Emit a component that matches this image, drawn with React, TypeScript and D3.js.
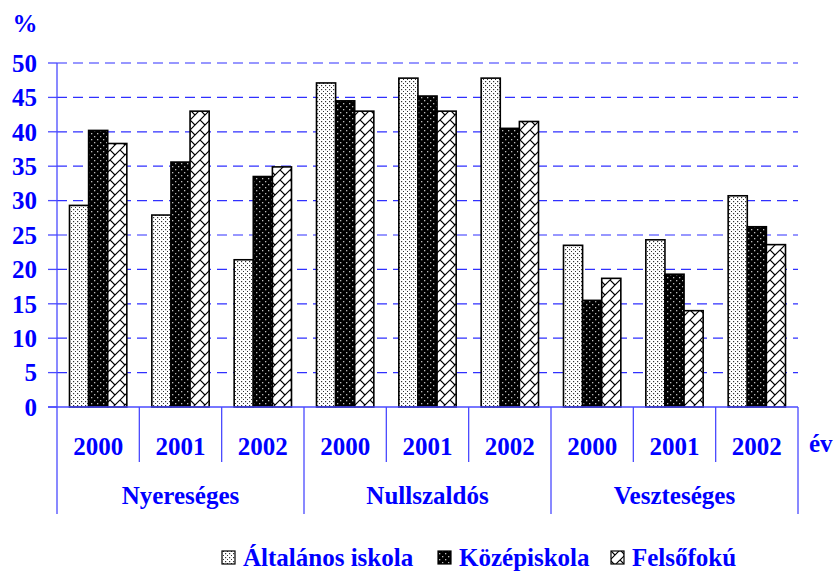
import React from "react";
import * as d3 from "d3";

const groups = ["Nyereséges", "Nullszaldós", "Veszteséges"];
const years = ["2000", "2001", "2002"];
const seriesNames = ["Általános iskola", "Középiskola", "Felsőfokú"];
const altalanos = [29.3, 27.9, 21.4, 47.1, 47.8, 47.8, 23.5, 24.3, 30.7];
const kozep = [40.2, 35.6, 33.5, 44.5, 45.2, 40.5, 15.5, 19.3, 26.2];
const felso = [38.3, 43.0, 34.9, 43.0, 43.0, 41.5, 18.7, 14.0, 23.6];
const yTicks = [0, 5, 10, 15, 20, 25, 30, 35, 40, 45, 50];

const W = 835;
const H = 571;
const left = 57;
const right = 798;
const top = 63;
const bottom = 407;
const BLUE = "#0000ff";
const AX = "#4a4aff";
const FONT = "'Liberation Serif', 'Times New Roman', serif";
const FS = 25;

export default function App() {
  const cats = groups.flatMap((g) => years.map((y) => g + "|" + y));
  const x0 = d3.scaleBand().domain(cats).range([left, right]).paddingInner(0).paddingOuter(0);
  const bw = x0.bandwidth();
  const x1 = d3.scaleBand().domain(seriesNames).range([12.5, bw - 12.5]).padding(0);
  const y = d3.scaleLinear().domain([0, 50]).range([bottom, top]);
  const series = [altalanos, kozep, felso];
  const fills = ["url(#pDots)", "url(#pDark)", "url(#pZig)"];
  const gx = d3.scaleBand().domain(groups).range([left, right]);
  const legendX = [222, 438, 611];

  return (
    <svg width={W} height={H} style={{ position: "absolute", left: 0, top: 0, background: "#fff" }}>
      <defs>
        <pattern id="pDots" width="4" height="4" patternUnits="userSpaceOnUse">
          <rect width="4" height="4" fill="#fff" />
          <rect x="1" y="1" width="1.2" height="1.2" fill="#333" />
          <rect x="3" y="3" width="1.2" height="1.2" fill="#333" />
        </pattern>
        <pattern id="pDark" width="6" height="6" patternUnits="userSpaceOnUse">
          <rect width="6" height="6" fill="#000" />
          <rect x="1" y="1" width="1.3" height="1.3" fill="#bbb" />
          <rect x="4" y="4" width="1.3" height="1.3" fill="#bbb" />
        </pattern>
        <pattern id="pZig" width="10" height="10" patternUnits="userSpaceOnUse">
          <rect width="10" height="10" fill="#fff" />
          <path d="M-1,11 L11,-1 M-1,1 L1,-1 M9,11 L11,9 M0,0 L5,5" stroke="#000" strokeWidth="1.2" fill="none" />
        </pattern>
      </defs>

      {/* gridlines */}
      {yTicks.filter((t) => t > 0).map((t) => (
        <line key={"g" + t} x1={left} x2={right} y1={y(t)} y2={y(t)} stroke="#3030ff" strokeWidth={1.2} strokeDasharray="10,6" />
      ))}

      {/* bars */}
      {cats.map((c, i) => (
        <g key={c}>
          {series.map((s, k) => (
            <rect
              key={k}
              x={(x0(c) as number) + (x1(seriesNames[k]) as number)}
              y={y(s[i])}
              width={x1.bandwidth()}
              height={y(0) - y(s[i])}
              fill={fills[k]}
              stroke="#000"
              strokeWidth={1.6}
            />
          ))}
        </g>
      ))}

      {/* y axis */}
      <line x1={left} x2={left} y1={top} y2={bottom} stroke={AX} strokeWidth={1.3} />
      {yTicks.map((t) => (
        <g key={"t" + t}>
          <line x1={left - 9} x2={left} y1={y(t)} y2={y(t)} stroke={AX} strokeWidth={1.3} />
          <text x={37} y={y(t)} dy="0.35em" textAnchor="end" fill={BLUE} fontFamily={FONT} fontWeight="bold" fontSize={FS}>
            {t}
          </text>
        </g>
      ))}
      <text x={25} y={32} textAnchor="middle" fill={BLUE} fontFamily={FONT} fontWeight="bold" fontSize={FS}>%</text>

      {/* x axis */}
      <line x1={left - 9} x2={right} y1={bottom} y2={bottom} stroke={AX} strokeWidth={1.3} />
      {cats.map((c, i) => {
        const xs = x0(c) as number;
        return (
          <g key={"x" + c}>
            {i % 3 !== 0 && (
              <line x1={xs} x2={xs} y1={bottom} y2={462} stroke={AX} strokeWidth={1.3} />
            )}
            <text x={xs + bw / 2} y={455} textAnchor="middle" fill={BLUE} fontFamily={FONT} fontWeight="bold" fontSize={FS}>
              {years[i % 3]}
            </text>
          </g>
        );
      })}
      {groups.map((g) => {
        const xs = gx(g) as number;
        return (
          <g key={"gr" + g}>
            <line x1={xs} x2={xs} y1={bottom} y2={514} stroke={AX} strokeWidth={1.3} />
            <text x={xs + gx.bandwidth() / 2} y={504} textAnchor="middle" fill={BLUE} fontFamily={FONT} fontWeight="bold" fontSize={FS}>
              {g}
            </text>
          </g>
        );
      })}
      <line x1={right} x2={right} y1={bottom} y2={514} stroke={AX} strokeWidth={1.3} />
      <text x={809} y={452} fill={BLUE} fontFamily={FONT} fontWeight="bold" fontSize={FS}>év</text>

      {/* legend */}
      {seriesNames.map((n, k) => (
        <g key={"l" + n}>
          <rect x={legendX[k]} y={551} width={13} height={13} fill={fills[k]} stroke="#000" strokeWidth={1.2} />
          <text x={legendX[k] + 21} y={566} fill={BLUE} fontFamily={FONT} fontWeight="bold" fontSize={FS}>
            {n}
          </text>
        </g>
      ))}
    </svg>
  );
}
